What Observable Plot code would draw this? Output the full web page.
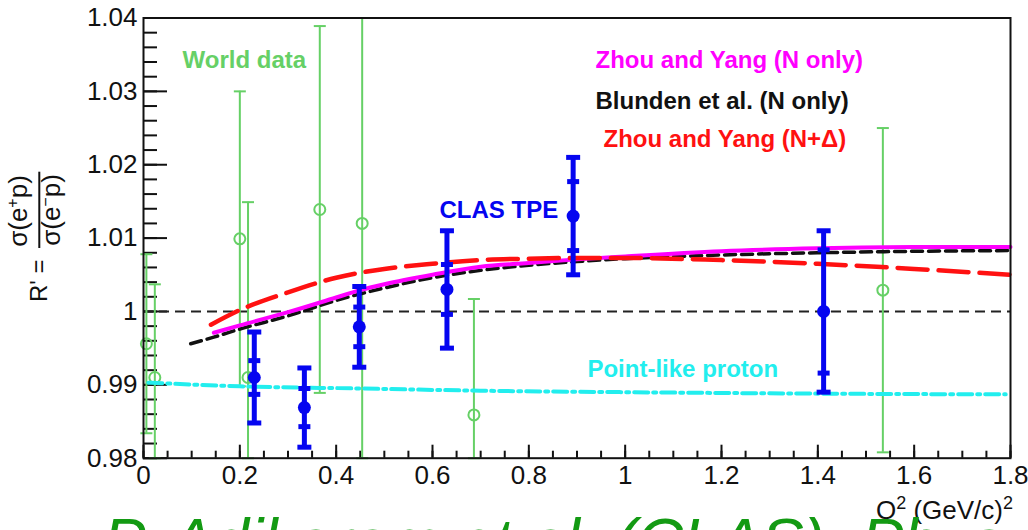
<!DOCTYPE html>
<html>
<head>
<meta charset="utf-8">
<script src="https://cdn.jsdelivr.net/npm/d3@7"></script>
<script src="https://cdn.jsdelivr.net/npm/@observablehq/plot@0.6"></script>
<style>
  body { margin: 0; background: #fff; overflow: hidden; }
  #chart { position: relative; width: 1028px; height: 530px; overflow: hidden; }
</style>
</head>
<body>
<div id="chart"></div>
<script>
// ---- Axis ticks ----
const xTickValues = [0, 0.2, 0.4, 0.6, 0.8, 1, 1.2, 1.4, 1.6, 1.8];
const yTickValues = [0.98, 0.99, 1, 1.01, 1.02, 1.03, 1.04];

// ---- CLAS TPE measurements: Q², R', statistical and total uncertainty ----
const clasQ2 = [0.230, 0.334, 0.448, 0.630, 0.892, 1.412];
const clasR = [0.9910, 0.9869, 0.9979, 1.0030, 1.0130, 1.0000];
const clasStat = [0.0023, 0.0026, 0.0027, 0.0034, 0.0047, 0.0084];
const clasTotal = [0.0062, 0.0054, 0.0055, 0.0080, 0.0080, 0.0110];

// ---- World data: Q², R', uncertainty ----
const worldQ2 = [0.006, 0.0235, 0.200, 0.217, 0.366, 0.454, 0.686, 1.535];
const worldR = [0.9956, 0.9910, 1.0099, 0.9910, 1.0139, 1.0120, 0.9859, 1.0029];
const worldErr = [0.0122, 0.0127, 0.0201, 0.0239, 0.0250, 0.0350, 0.0158, 0.0221];

// ---- Theory curves ----
const zhouNQ2 = [0.146, 0.2, 0.3, 0.4, 0.45, 0.5, 0.6, 0.7, 0.8, 0.9, 1.0, 1.2, 1.4, 1.6, 1.8];
const zhouNR = [0.9971, 0.9981, 0.9999, 1.0019, 1.0029, 1.0037, 1.0050, 1.0061, 1.0066, 1.0071, 1.0075, 1.0082, 1.0086, 1.0088, 1.0088];

const blundenQ2 = [0.098, 0.146, 0.2, 0.3, 0.4, 0.5, 0.6, 0.7, 0.8, 0.9, 1.0, 1.2, 1.4, 1.6, 1.8];
const blundenR = [0.9956, 0.9965, 0.9976, 0.9994, 1.0015, 1.0032, 1.0046, 1.0056, 1.0063, 1.0068, 1.0072, 1.0077, 1.0080, 1.0082, 1.0083];

const zhouNDQ2 = [0.14, 0.2, 0.3, 0.4, 0.5, 0.6, 0.7, 0.8, 0.9, 1.0, 1.2, 1.4, 1.6, 1.8];
const zhouNDR = [0.9982, 1.0002, 1.0026, 1.0046, 1.0058, 1.0065, 1.0070, 1.0072, 1.0073, 1.0073, 1.0070, 1.0065, 1.0058, 1.0050];

const pointQ2 = [0.01, 0.2, 0.45, 0.7, 1.0, 1.4, 1.79];
const pointR = [0.9903, 0.9898, 0.9895, 0.9892, 0.9890, 0.9888, 0.9887];

// ---- Build tables ----
const clas = clasQ2.map((q, i) => ({q, r: clasR[i], stat: clasStat[i], tot: clasTotal[i]}));
const world = worldQ2.map((q, i) => ({q, r: worldR[i], err: worldErr[i]}));
const curve = (qs, rs) => qs.map((q, i) => ({q, r: rs[i]}));

const yMin = yTickValues[0], yMax = yTickValues[yTickValues.length - 1];
const clampY = v => Math.max(yMin, Math.min(yMax, v));

// horizontal end-cap drawn as a dot symbol (half-width = r)
const capSymbol = {
  draw(ctx, size) {
    const w = Math.sqrt(size / Math.PI);
    ctx.moveTo(-w, 0);
    ctx.lineTo(w, 0);
  }
};

const W = 1028, H = 530;
const mL = 143, mR = 18, mT = 17.5, mB = 72.3;
const plotW = W - mL - mR, plotH = H - mT - mB;

const xMinor = d3.range(0, 37).map(i => i * 0.05);
const yMinor = d3.range(0, 31).map(i => yMin + i * 0.002);

const fontFamily = '"Liberation Sans", Arial, Helvetica, sans-serif';
const fmt = d => String(+d.toFixed(3));

const BLUE = "#0505f0", GREEN = "#66d066", MAGENTA = "#ff00ff", RED = "#ff1111", CYAN = "#22eeee";

const chart = Plot.plot({
  width: W, height: H,
  marginLeft: mL, marginRight: mR, marginTop: mT, marginBottom: mB,
  x: {domain: [0, 1.8]},
  y: {domain: [yMin, yMax]},
  style: {fontFamily, background: "white", overflow: "visible"},
  marks: [
    // inward ticks
    Plot.tickY(yMinor, {y: d => d, insetRight: plotW - 14, stroke: "#111", strokeWidth: 2}),
    Plot.tickY(yTickValues, {y: d => d, insetRight: plotW - 24, stroke: "#111", strokeWidth: 2}),
    Plot.tickX(xMinor, {x: d => d, insetTop: plotH - 7, stroke: "#111", strokeWidth: 2}),
    Plot.tickX(xTickValues, {x: d => d, insetTop: plotH - 13, stroke: "#111", strokeWidth: 2}),
    Plot.axisY({ticks: yTickValues, tickSize: 0, tickPadding: 6, tickFormat: fmt, fontSize: 26, label: null, color: "#111"}),
    Plot.axisX({ticks: xTickValues, tickSize: 0, tickPadding: 7, tickFormat: fmt, fontSize: 26, label: null, color: "#111"}),

    // reference line at R' = 1
    Plot.ruleY([1], {stroke: "#222", strokeWidth: 2, strokeDasharray: "10,6"}),

    // world data
    Plot.ruleX(world, {x: "q", y1: d => clampY(d.r - d.err), y2: d => clampY(d.r + d.err), stroke: GREEN, strokeWidth: 2}),
    Plot.dot(world, {x: "q", y: d => clampY(d.r + d.err), symbol: capSymbol, r: 6, stroke: GREEN, strokeWidth: 2}),
    Plot.dot(world, {x: "q", y: d => clampY(d.r - d.err), symbol: capSymbol, r: 6, stroke: GREEN, strokeWidth: 2}),
    Plot.dot(world, {x: "q", y: "r", r: 5.5, stroke: GREEN, strokeWidth: 2, fill: "none"}),

    // theory curves
    Plot.line(curve(pointQ2, pointR), {x: "q", y: "r", stroke: CYAN, strokeWidth: 4, strokeDasharray: "14,5,3,5", curve: "monotone-x"}),
    Plot.line(curve(blundenQ2, blundenR), {x: "q", y: "r", stroke: "#111", strokeWidth: 3.5, strokeDasharray: "11,6", curve: "monotone-x"}),
    Plot.line(curve(zhouNQ2, zhouNR), {x: "q", y: "r", stroke: MAGENTA, strokeWidth: 4, curve: "monotone-x"}),
    Plot.line(curve(zhouNDQ2, zhouNDR), {x: "q", y: "r", stroke: RED, strokeWidth: 4.5, strokeDasharray: "30,11", curve: "monotone-x"}),

    // CLAS TPE
    Plot.ruleX(clas, {x: "q", y1: d => d.r - d.tot, y2: d => d.r + d.tot, stroke: BLUE, strokeWidth: 5}),
    Plot.dot(clas, {x: "q", y: d => d.r + d.tot, symbol: capSymbol, r: 7, stroke: BLUE, strokeWidth: 5}),
    Plot.dot(clas, {x: "q", y: d => d.r - d.tot, symbol: capSymbol, r: 7, stroke: BLUE, strokeWidth: 5}),
    Plot.dot(clas, {x: "q", y: d => d.r + d.stat, symbol: capSymbol, r: 6, stroke: BLUE, strokeWidth: 5}),
    Plot.dot(clas, {x: "q", y: d => d.r - d.stat, symbol: capSymbol, r: 6, stroke: BLUE, strokeWidth: 5}),
    Plot.dot(clas, {x: "q", y: "r", r: 6.5, fill: BLUE, stroke: "none"}),

    // annotations
    Plot.text(["World data"], {x: 0.081, y: 1.0342, text: d => d, textAnchor: "start", fill: GREEN, fontSize: 24, fontWeight: "bold"}),
    Plot.text(["Zhou and Yang (N only)"], {x: 0.9384, y: 1.0342, text: d => d, textAnchor: "start", fill: MAGENTA, fontSize: 24, fontWeight: "bold"}),
    Plot.text(["Blunden et al. (N only)"], {x: 0.9384, y: 1.0287, text: d => d, textAnchor: "start", fill: "#111", fontSize: 24, fontWeight: "bold"}),
    Plot.text(["Zhou and Yang (N+\u0394)"], {x: 0.955, y: 1.0235, text: d => d, textAnchor: "start", fill: RED, fontSize: 24, fontWeight: "bold"}),
    Plot.text(["CLAS TPE"], {x: 0.6145, y: 1.01375, text: d => d, textAnchor: "start", fill: BLUE, fontSize: 24, fontWeight: "bold"}),
    Plot.text(["Point-like proton"], {x: 0.9217, y: 0.99217, text: d => d, textAnchor: "start", fill: CYAN, fontSize: 24, fontWeight: "bold"}),

    Plot.frame({stroke: "#111", strokeWidth: 2})
  ]
});

document.getElementById("chart").appendChild(chart);

const svg = d3.select(chart);

// x-axis title
const xt = svg.append("text")
  .attr("x", 1013).attr("y", 519)
  .attr("text-anchor", "end")
  .attr("font-family", fontFamily).attr("font-size", 26).attr("fill", "#111");
xt.append("tspan").text("Q");
xt.append("tspan").attr("dy", -10).attr("font-size", 18).text("2");
xt.append("tspan").attr("dy", 10).text(" (GeV/c)");
xt.append("tspan").attr("dy", -10).attr("font-size", 18).text("2");

// y-axis title: R' = σ(e⁺p) / σ(e⁻p), rotated
const yt = svg.append("g").attr("transform", "rotate(-90)")
  .attr("font-family", fontFamily).attr("fill", "#111");
yt.append("text").attr("x", -302).attr("y", 47).attr("text-anchor", "start").attr("font-size", 24).text("R' =");
const num = yt.append("text").attr("x", -211).attr("y", 27).attr("text-anchor", "middle").attr("font-size", 26);
num.append("tspan").text("\u03c3(e");
num.append("tspan").attr("dy", -9).attr("font-size", 16).text("+");
num.append("tspan").attr("dy", 9).text("p)");
const den = yt.append("text").attr("x", -210).attr("y", 60).attr("text-anchor", "middle").attr("font-size", 26);
den.append("tspan").text("\u03c3(e");
den.append("tspan").attr("dy", -9).attr("font-size", 16).text("\u2212");
den.append("tspan").attr("dy", 9).text("p)");
yt.append("line").attr("x1", -248).attr("x2", -171.7).attr("y1", 39.3).attr("y2", 39.3)
  .attr("stroke", "#111").attr("stroke-width", 2);

// reference citation
svg.append("text")
  .attr("x", 103).attr("y", 564)
  .attr("text-anchor", "start")
  .attr("font-family", fontFamily).attr("font-size", 64).attr("font-style", "italic")
  .attr("fill", "#139a13")
  .text("P. Adikaram et al. (CLAS), Phys. Rev. Lett.");
</script>
</body>
</html>
